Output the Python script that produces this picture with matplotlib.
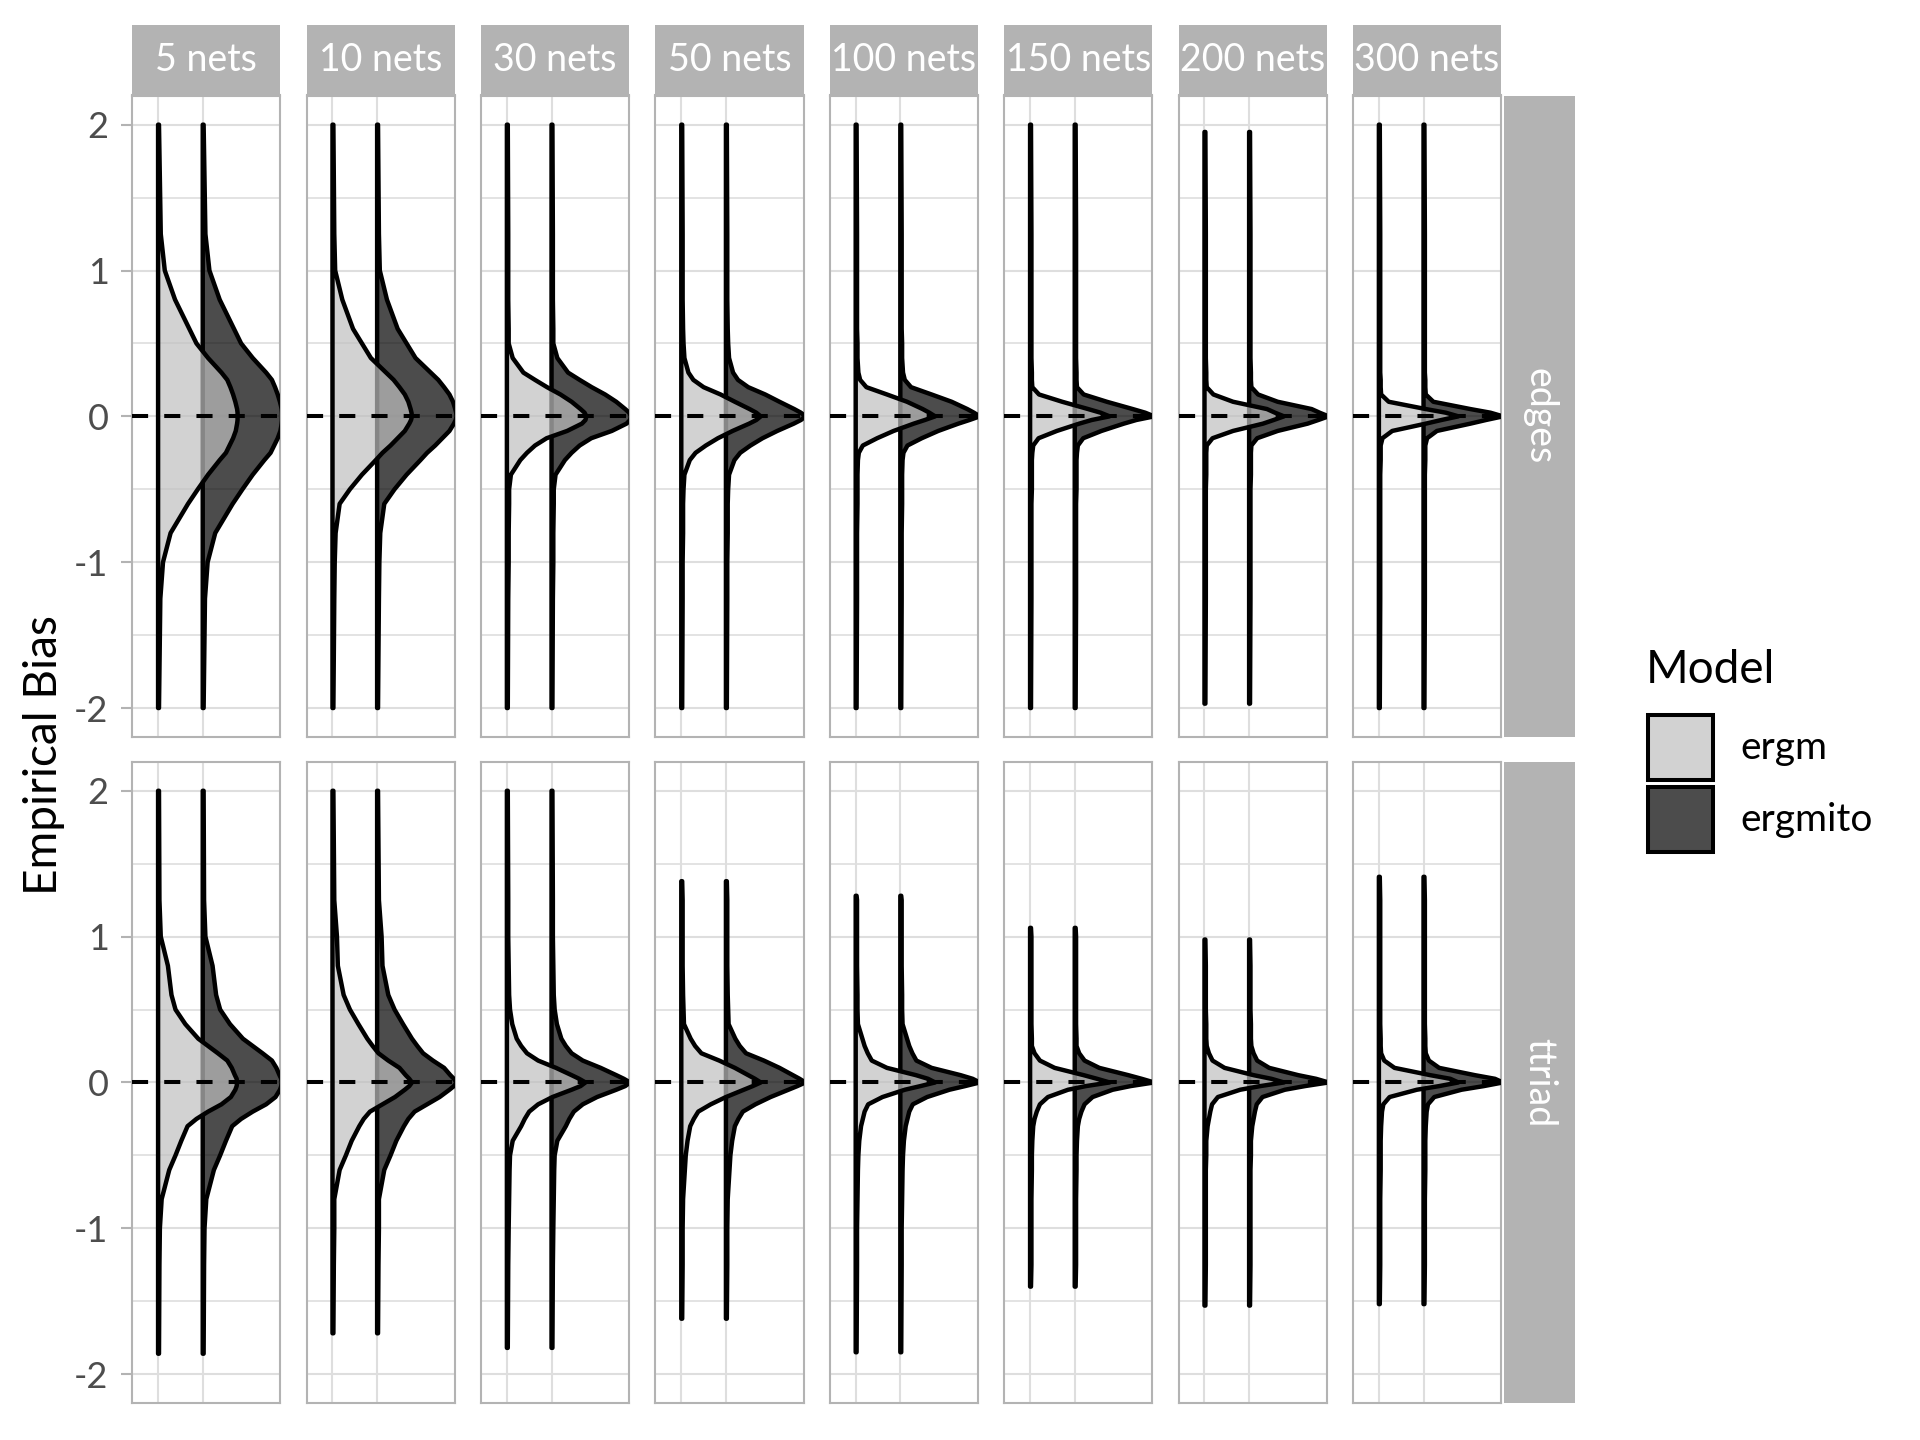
import matplotlib
matplotlib.use("Agg")
import matplotlib.pyplot as plt
from matplotlib.patches import Rectangle
import numpy as np

plt.rcParams['font.family'] = ['Lato', 'DejaVu Sans']
plt.rcParams['axes.unicode_minus'] = False

# ---------------- data ----------------
terms = ["edges", "ttriad"]
net_labels = ["5 nets", "10 nets", "30 nets", "50 nets", "100 nets", "150 nets", "200 nets", "300 nets"]
models = ["ergm", "ergmito"]
model_pos = [1, 2]

knots = [-1.25, -1.0, -0.8, -0.6, -0.5, -0.4, -0.3, -0.25, -0.2, -0.15, -0.1, -0.05, -0.025,
         0.0, 0.025, 0.05, 0.1, 0.15, 0.2, 0.25, 0.3, 0.4, 0.5, 0.6, 0.8, 1.0, 1.25]
tip_width = 0.02

edges_ymin = [-2.0, -2.0, -2.0, -2.0, -2.0, -2.0, -1.97, -2.0]
edges_ymax = [2.0, 2.0, 2.0, 2.0, 2.0, 2.0, 1.95, 2.0]
ttriad_ymin = [-1.86, -1.72, -1.82, -1.62, -1.85, -1.40, -1.53, -1.52]
ttriad_ymax = [2.0, 2.0, 2.0, 1.38, 1.28, 1.06, 0.98, 1.41]

# half-violin widths (x units) at the knots; same estimate distribution shape for ergm and ergmito
edges_widths = [
    [0.05, 0.11, 0.28, 0.67, 0.89, 1.12, 1.38, 1.52, 1.60, 1.68, 1.74, 1.77, 1.78, 1.78, 1.78, 1.77, 1.73, 1.68, 1.62, 1.55, 1.42, 1.12, 0.86, 0.70, 0.38, 0.15, 0.06],
    [0.04, 0.05, 0.07, 0.16, 0.39, 0.66, 0.97, 1.12, 1.30, 1.46, 1.62, 1.72, 1.76, 1.78, 1.77, 1.75, 1.70, 1.62, 1.50, 1.37, 1.20, 0.86, 0.66, 0.46, 0.22, 0.06, 0.04],
    [0.03, 0.04, 0.04, 0.05, 0.05, 0.09, 0.30, 0.45, 0.63, 0.89, 1.35, 1.68, 1.76, 1.78, 1.74, 1.65, 1.45, 1.20, 0.90, 0.63, 0.37, 0.13, 0.04, 0.04, 0.03, 0.03, 0.03],
    [0.03, 0.03, 0.04, 0.04, 0.05, 0.07, 0.19, 0.32, 0.55, 0.82, 1.15, 1.52, 1.68, 1.78, 1.68, 1.53, 1.20, 0.88, 0.50, 0.27, 0.16, 0.07, 0.05, 0.04, 0.03, 0.03, 0.03],
    [0.03, 0.03, 0.03, 0.04, 0.04, 0.04, 0.05, 0.07, 0.16, 0.48, 0.85, 1.30, 1.55, 1.78, 1.65, 1.50, 1.15, 0.70, 0.24, 0.10, 0.06, 0.04, 0.04, 0.03, 0.03, 0.03, 0.03],
    [0.03, 0.03, 0.03, 0.03, 0.04, 0.04, 0.04, 0.05, 0.07, 0.19, 0.60, 1.10, 1.38, 1.78, 1.58, 1.30, 0.72, 0.20, 0.05, 0.04, 0.04, 0.03, 0.03, 0.03, 0.03, 0.03, 0.03],
    [0.03, 0.03, 0.03, 0.03, 0.03, 0.04, 0.04, 0.04, 0.05, 0.18, 0.64, 1.31, 1.55, 1.78, 1.58, 1.40, 0.64, 0.20, 0.05, 0.04, 0.04, 0.03, 0.03, 0.03, 0.03, 0.03, 0.03],
    [0.03, 0.03, 0.03, 0.03, 0.03, 0.03, 0.04, 0.04, 0.04, 0.08, 0.30, 1.05, 1.40, 1.78, 1.50, 1.05, 0.22, 0.05, 0.04, 0.04, 0.03, 0.03, 0.03, 0.03, 0.03, 0.03, 0.03],
]
ttriad_widths = [
    [0.03, 0.04, 0.08, 0.25, 0.39, 0.52, 0.66, 0.86, 1.12, 1.42, 1.63, 1.73, 1.76, 1.77, 1.76, 1.72, 1.65, 1.55, 1.34, 1.12, 0.90, 0.61, 0.39, 0.30, 0.22, 0.06, 0.03],
    [0.03, 0.04, 0.04, 0.16, 0.30, 0.43, 0.60, 0.70, 0.84, 1.12, 1.40, 1.62, 1.72, 1.78, 1.72, 1.64, 1.50, 1.25, 1.03, 0.90, 0.78, 0.58, 0.39, 0.25, 0.12, 0.10, 0.04],
    [0.03, 0.04, 0.05, 0.06, 0.07, 0.13, 0.32, 0.40, 0.50, 0.70, 1.02, 1.45, 1.65, 1.76, 1.62, 1.45, 1.10, 0.70, 0.45, 0.32, 0.22, 0.12, 0.07, 0.05, 0.04, 0.03, 0.03],
    [0.03, 0.03, 0.04, 0.08, 0.10, 0.14, 0.20, 0.28, 0.38, 0.66, 1.00, 1.40, 1.60, 1.78, 1.65, 1.50, 1.20, 0.85, 0.45, 0.31, 0.21, 0.06, 0.05, 0.04, 0.03, 0.03, 0.03],
    [0.03, 0.03, 0.04, 0.05, 0.06, 0.08, 0.12, 0.16, 0.20, 0.28, 0.60, 1.10, 1.45, 1.78, 1.62, 1.35, 0.70, 0.36, 0.27, 0.20, 0.15, 0.05, 0.04, 0.04, 0.03, 0.03, 0.03],
    [0.03, 0.03, 0.03, 0.04, 0.04, 0.05, 0.07, 0.10, 0.15, 0.22, 0.40, 0.85, 1.25, 1.78, 1.50, 1.20, 0.55, 0.22, 0.10, 0.04, 0.04, 0.03, 0.03, 0.03, 0.03, 0.03, 0.03],
    [0.03, 0.03, 0.03, 0.03, 0.04, 0.04, 0.07, 0.10, 0.13, 0.17, 0.30, 0.80, 1.25, 1.78, 1.50, 1.10, 0.45, 0.18, 0.10, 0.05, 0.04, 0.04, 0.03, 0.03, 0.03, 0.03, 0.03],
    [0.03, 0.03, 0.03, 0.04, 0.04, 0.04, 0.05, 0.06, 0.07, 0.10, 0.24, 0.85, 1.35, 1.78, 1.60, 1.15, 0.35, 0.12, 0.05, 0.04, 0.04, 0.03, 0.03, 0.03, 0.03, 0.03, 0.03],
]

y_ticks = [-2, -1, 0, 1, 2]
y_tick_labels = ["-2", "-1", "0", "1", "2"]
y_minor = [-1.5, -0.5, 0.5, 1.5]

# ---------------- style ----------------
fill_colors = {"ergm": (192/255, 192/255, 192/255, 0.7), "ergmito": (0, 0, 0, 0.7)}
grid_col = "#DEDEDE"
border_col = "#B3B3B3"
strip_col = "#B3B3B3"
LW = 3.2

W, H = 1920, 1440
fig = plt.figure(figsize=(W / 100, H / 100), dpi=100)
fig.patch.set_facecolor("white")

col_left0, col_pitch, col_w = 132.2, 174.4, 148.2
row_top = [95.5, 761.6]
row_bot = [737.2, 1403.3]
strip_top, strip_bot = 24.5, 95.5
rstrip_l, rstrip_r = 1503.7, 1575.0


def fx(px):
    return px / W


def fy(py):
    return 1 - py / H


ranges = {"edges": (edges_ymin, edges_ymax, edges_widths),
          "ttriad": (ttriad_ymin, ttriad_ymax, ttriad_widths)}

for r, term in enumerate(terms):
    ymins, ymaxs, widths = ranges[term]
    for c, lab in enumerate(net_labels):
        left = col_left0 + c * col_pitch
        ax = fig.add_axes([fx(left), fy(row_bot[r]), col_w / W, (row_bot[r] - row_top[r]) / H])
        ax.set_xlim(0.42, 3.74)
        ax.set_ylim(-2.2, 2.2)
        ax.set_xticks(model_pos)
        ax.set_yticks(y_ticks)
        ax.set_yticks(y_minor, minor=True)
        ax.set_axisbelow(True)
        ax.grid(which="major", color=grid_col, lw=1.5)
        ax.grid(which="minor", axis="y", color=grid_col, lw=1.2)
        for s in ax.spines.values():
            s.set_color(border_col)
            s.set_linewidth(1.5)
        ax.tick_params(axis="x", length=0, labelbottom=False)
        ax.tick_params(axis="y", which="minor", length=0)
        if c == 0:
            ax.set_yticklabels(y_tick_labels)
            ax.tick_params(axis="y", which="major", length=8, width=1.5, color=border_col,
                           labelsize=26, labelcolor="#4D4D4D", pad=9)
        else:
            ax.tick_params(axis="y", which="major", length=0, labelleft=False)

        # profile for this panel
        ymin, ymax = ymins[c], ymaxs[c]
        ys = [ymin] + [k for k in knots if ymin < k < ymax] + [ymax]
        ws = [tip_width] + [w for k, w in zip(knots, widths[c]) if ymin < k < ymax] + [tip_width]
        ys = np.array(ys)
        ws = np.array(ws)
        # draw ergmito first, ergm on top
        for m, x0, z in [("ergmito", 2, 3), ("ergm", 1, 4)]:
            xs = np.concatenate([[x0], x0 + ws, [x0]])
            yy = np.concatenate([[ymin], ys, [ymax]])
            ax.fill(xs, yy, facecolor=fill_colors[m], edgecolor="black", lw=LW,
                    joinstyle="round", capstyle="round", zorder=z)
        ax.axhline(0, color="black", lw=2.9, linestyle=(0, (4, 4)), zorder=6)

        # top strips
        if r == 0:
            sax = fig.add_axes([fx(left), fy(strip_bot), col_w / W, (strip_bot - strip_top) / H])
            sax.set_facecolor(strip_col)
            sax.set_xticks([]); sax.set_yticks([])
            for s in sax.spines.values():
                s.set_visible(False)
            sax.text(0.5, 0.5, lab, color="white", fontsize=27, ha="center", va="center",
                     transform=sax.transAxes)
    # right strip
    rax = fig.add_axes([fx(rstrip_l), fy(row_bot[r]), (rstrip_r - rstrip_l) / W, (row_bot[r] - row_top[r]) / H])
    rax.set_facecolor(strip_col)
    rax.set_xticks([]); rax.set_yticks([])
    for s in rax.spines.values():
        s.set_visible(False)
    rax.text(0.5, 0.5, term, color="white", fontsize=27, ha="center", va="center",
             rotation=270, transform=rax.transAxes)

# y axis title
fig.text(fx(44), fy(755), "Empirical Bias", rotation=90, fontsize=33, ha="center", va="center")

# legend
fig.text(fx(1646), fy(683), "Model", fontsize=33, ha="left", va="baseline")
key_tops = [715, 787]
for m, kt in zip(models, key_tops):
    fig.add_artist(Rectangle((fx(1648), fy(kt + 65)), 65 / W, 65 / H, transform=fig.transFigure,
                             facecolor=fill_colors[m], edgecolor="black", lw=2.9))
    fig.text(fx(1740), fy(kt + 33), m, fontsize=28, ha="left", va="center")

fig.savefig("out.png", dpi=100)
